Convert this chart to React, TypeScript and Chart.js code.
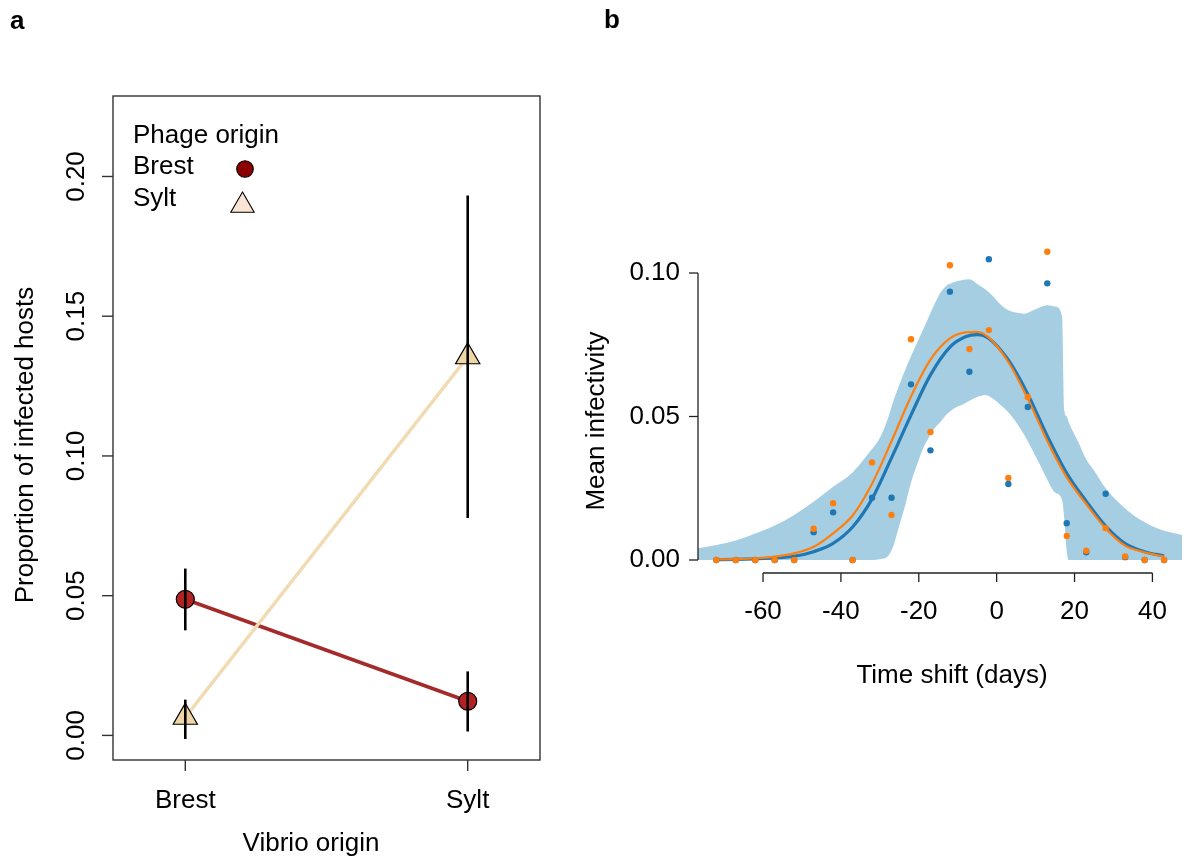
import React, { useEffect, useRef } from 'react';
import { Chart, registerables } from 'chart.js';

Chart.register(...registerables);

const FONT = "'Liberation Sans', Arial, Helvetica, sans-serif";

// ---------- Panel a data ----------
const vibrioOrigins = ['Brest', 'Sylt'];
const vibrioPositions = [1, 2];
const brestPhageMean = [0.0487, 0.0122];
const brestPhageLower = [0.0376, 0.0014];
const brestPhageUpper = [0.0597, 0.0229];
const syltPhageMean = [0.0065, 0.1355];
const syltPhageLower = [-0.0013, 0.0778];
const syltPhageUpper = [0.0128, 0.1932];
const yTicksA = [0, 0.05, 0.1, 0.15, 0.2];
const yTickLabelsA = ['0.00', '0.05', '0.10', '0.15', '0.20'];
const legendTitleA = 'Phage origin';
const legendLabelsA = ['Brest', 'Sylt'];

// ---------- Panel b data ----------
const timeShift = [-72, -67, -62, -57, -52, -47, -42, -37, -32, -27, -22, -17, -12, -7, -2, 3, 8, 13, 18, 23, 28, 33, 38, 43];
const blueObserved = [0, 0, 0, 0, 0, 0.0097, 0.0166, 0, 0.0217, 0.0217, 0.0612, 0.0382, 0.0935, 0.0656, 0.1048, 0.0265, 0.0533, 0.0964, 0.0128, 0.0027, 0.0231, 0.001, 0, 0];
const orangeObserved = [0, 0, 0, 0, 0, 0.0109, 0.0198, 0, 0.034, 0.0157, 0.0769, 0.0446, 0.1027, 0.0735, 0.0801, 0.0286, 0.0568, 0.1074, 0.0084, 0.0032, 0.0111, 0.0012, 0, 0];

const curveX = [-72, -67, -62, -57, -52, -47, -42, -37, -32, -27, -22, -17, -12, -8, -5, -2, 3, 8, 13, 18, 23, 28, 33, 38, 43];
const blueFit = [0.0001, 0.0002, 0.0004, 0.0007, 0.0013, 0.0029, 0.0058, 0.0115, 0.0213, 0.0356, 0.0505, 0.0645, 0.0742, 0.0778, 0.0785, 0.0772, 0.0697, 0.0578, 0.0432, 0.0302, 0.0205, 0.0118, 0.0057, 0.0029, 0.0014];
const orangeFit = [0.0002, 0.0003, 0.0006, 0.0012, 0.0023, 0.0046, 0.0093, 0.0155, 0.0266, 0.0414, 0.057, 0.0698, 0.0772, 0.0793, 0.0795, 0.0775, 0.069, 0.0562, 0.0415, 0.0288, 0.0195, 0.011, 0.005, 0.0027, 0.0012];

const bandX = [-77, -72, -67, -62, -57, -52, -47, -42, -37, -33, -30, -28, -26.5, -25, -23.5, -22, -20.5, -19, -17.5, -16, -14.5, -13, -11, -9, -7, -5, -3, -1, 1, 3, 5, 7, 9, 11, 13, 15, 16.8, 17.4, 18, 18.5, 21, 23, 25, 28, 31, 34, 37, 40, 43, 46, 48];
const bandUpper = [0.004, 0.0052, 0.0068, 0.0092, 0.012, 0.0157, 0.0203, 0.0255, 0.0305, 0.037, 0.0425, 0.049, 0.0555, 0.061, 0.0662, 0.071, 0.0755, 0.08, 0.0845, 0.089, 0.093, 0.0955, 0.0968, 0.0975, 0.0978, 0.0962, 0.0944, 0.092, 0.089, 0.087, 0.0862, 0.0858, 0.0868, 0.088, 0.0888, 0.0883, 0.0848, 0.052, 0.05, 0.048, 0.041, 0.035, 0.0312, 0.025, 0.0205, 0.0168, 0.0139, 0.0118, 0.0102, 0.0092, 0.0086];
const bandLower = [0, 0, 0, 0, 0, 0, 0, 0, 0, 0, 0.0003, 0.0012, 0.005, 0.012, 0.019, 0.027, 0.033, 0.0385, 0.0425, 0.0458, 0.048, 0.0505, 0.0528, 0.054, 0.0555, 0.0568, 0.0575, 0.0563, 0.054, 0.0515, 0.048, 0.0438, 0.0388, 0.0335, 0.028, 0.0235, 0.0209, 0.014, 0.003, 0, 0, 0, 0, 0, 0, 0, 0, 0, 0, 0, 0];

const yTicksB = [0, 0.05, 0.1];
const yTickLabelsB = ['0.00', '0.05', '0.10'];
const xTicksB = [-60, -40, -20, 0, 20, 40];
const xTickLabelsB = ['-60', '-40', '-20', '0', '20', '40'];

const zip = (xs: number[], ys: number[]) => xs.map((x, i) => ({ x, y: ys[i] }));

function drawTriangle(ctx: CanvasRenderingContext2D, cx: number, cy: number, r: number) {
  ctx.beginPath();
  for (let k = 0; k < 3; k++) {
    const a = (k * 2 * Math.PI) / 3;
    const px = cx + Math.sin(a) * r;
    const py = cy - Math.cos(a) * r;
    if (k === 0) ctx.moveTo(px, py);
    else ctx.lineTo(px, py);
  }
  ctx.closePath();
}

function PanelA() {
  const ref = useRef<HTMLCanvasElement>(null);
  useEffect(() => {
    const canvas = ref.current!;
    const decor = {
      id: 'decorA',
      afterDatasetsDraw(chart: any) {
        const { ctx, scales } = chart;
        const x = scales.x;
        const y = scales.y;
        ctx.save();
        ctx.strokeStyle = '#000';
        ctx.lineWidth = 2.6;
        const groups = [
          [brestPhageLower, brestPhageUpper],
          [syltPhageLower, syltPhageUpper],
        ];
        groups.forEach(([lo, hi]) => {
          vibrioPositions.forEach((p, i) => {
            const px = x.getPixelForValue(p);
            ctx.beginPath();
            ctx.moveTo(px, y.getPixelForValue(lo[i]));
            ctx.lineTo(px, y.getPixelForValue(hi[i]));
            ctx.stroke();
          });
        });
        ctx.restore();
      },
      afterDraw(chart: any) {
        const { ctx, chartArea: ca, scales } = chart;
        const x = scales.x;
        const y = scales.y;
        ctx.save();
        ctx.strokeStyle = '#333';
        ctx.lineWidth = 1.4;
        ctx.strokeRect(ca.left, ca.top, ca.right - ca.left, ca.bottom - ca.top);
        ctx.fillStyle = '#000';
        ctx.font = `26px ${FONT}`;
        // y ticks
        yTicksA.forEach((v, i) => {
          const py = y.getPixelForValue(v);
          ctx.beginPath();
          ctx.moveTo(ca.left, py);
          ctx.lineTo(ca.left - 11, py);
          ctx.stroke();
          ctx.save();
          ctx.translate(77, py);
          ctx.rotate(-Math.PI / 2);
          ctx.textAlign = 'center';
          ctx.textBaseline = 'middle';
          ctx.fillText(yTickLabelsA[i], 0, 0);
          ctx.restore();
        });
        // x ticks
        vibrioPositions.forEach((p, i) => {
          const px = x.getPixelForValue(p);
          ctx.beginPath();
          ctx.moveTo(px, ca.bottom);
          ctx.lineTo(px, ca.bottom + 11);
          ctx.stroke();
          ctx.textAlign = 'center';
          ctx.textBaseline = 'middle';
          ctx.fillText(vibrioOrigins[i], px, 801);
        });
        // titles
        ctx.textAlign = 'center';
        ctx.textBaseline = 'middle';
        ctx.fillText('Vibrio origin', 311, 844);
        ctx.save();
        ctx.translate(26, 445);
        ctx.rotate(-Math.PI / 2);
        ctx.fillText('Proportion of infected hosts', 0, 0);
        ctx.restore();
        // legend
        ctx.textAlign = 'left';
        ctx.textBaseline = 'alphabetic';
        ctx.fillText(legendTitleA, 133, 143);
        ctx.fillText(legendLabelsA[0], 133, 174);
        ctx.fillText(legendLabelsA[1], 133, 206);
        ctx.lineWidth = 1.1;
        ctx.strokeStyle = '#000';
        ctx.beginPath();
        ctx.arc(245, 169, 8.3, 0, Math.PI * 2);
        ctx.fillStyle = '#8B0000';
        ctx.fill();
        ctx.stroke();
        drawTriangle(ctx, 242.5, 205.5, 13.5);
        ctx.fillStyle = '#FCE4D4';
        ctx.fill();
        ctx.stroke();
        // panel letter
        ctx.fillStyle = '#000';
        ctx.font = `bold 26px ${FONT}`;
        ctx.fillText('a', 10, 29);
        ctx.restore();
      },
    };
    const chart = new Chart(canvas, {
      type: 'line',
      data: {
        datasets: [
          {
            data: zip(vibrioPositions, brestPhageMean),
            showLine: false,
            pointStyle: 'circle',
            pointRadius: 9,
            pointBackgroundColor: '#B22222',
            pointBorderColor: '#000',
            pointBorderWidth: 1.2,
            order: 0,
            clip: false,
          } as any,
          {
            data: zip(vibrioPositions, syltPhageMean),
            showLine: false,
            pointStyle: 'triangle',
            pointRadius: 14,
            pointBackgroundColor: '#EFD6A8',
            pointBorderColor: '#000',
            pointBorderWidth: 1.2,
            order: 1,
            clip: false,
          },
          {
            data: zip(vibrioPositions, syltPhageMean),
            borderColor: '#F0DBB2',
            borderWidth: 3.6,
            pointRadius: 0,
            fill: false,
            order: 2,
          },
          {
            data: zip(vibrioPositions, brestPhageMean),
            borderColor: '#A52A2A',
            borderWidth: 3.6,
            pointRadius: 0,
            fill: false,
            order: 3,
          },
        ],
      },
      options: {
        animation: false,
        responsive: false,
        devicePixelRatio: 1,
        layout: { padding: { left: 113, top: 96, right: 50, bottom: 99 } },
        scales: {
          x: { type: 'linear', min: 0.744, max: 2.256, display: false },
          y: { type: 'linear', min: -0.0088, max: 0.2288, display: false },
        },
        plugins: { legend: { display: false }, tooltip: { enabled: false } },
      },
      plugins: [decor],
    } as any);
    return () => chart.destroy();
  }, []);
  return (
    <canvas
      ref={ref}
      width={590}
      height={859}
      style={{ position: 'absolute', left: 0, top: 0, width: 590, height: 859 }}
    />
  );
}

function PanelB() {
  const ref = useRef<HTMLCanvasElement>(null);
  useEffect(() => {
    const canvas = ref.current!;
    const decor = {
      id: 'decorB',
      afterDraw(chart: any) {
        const { ctx, chartArea: ca, scales } = chart;
        const x = scales.x;
        const y = scales.y;
        ctx.save();
        ctx.strokeStyle = '#222';
        ctx.lineWidth = 1.3;
        ctx.fillStyle = '#000';
        ctx.font = `26px ${FONT}`;
        // y spine
        const x0 = ca.left;
        ctx.beginPath();
        ctx.moveTo(x0, y.getPixelForValue(yTicksB[0]));
        ctx.lineTo(x0, y.getPixelForValue(yTicksB[yTicksB.length - 1]));
        ctx.stroke();
        yTicksB.forEach((v, i) => {
          const py = y.getPixelForValue(v);
          ctx.beginPath();
          ctx.moveTo(x0, py);
          ctx.lineTo(x0 - 9, py);
          ctx.stroke();
          ctx.textAlign = 'right';
          ctx.textBaseline = 'middle';
          ctx.fillText(yTickLabelsB[i], x0 - 18, py);
        });
        // x spine
        const yb = ca.bottom;
        ctx.beginPath();
        ctx.moveTo(x.getPixelForValue(xTicksB[0]), yb);
        ctx.lineTo(x.getPixelForValue(xTicksB[xTicksB.length - 1]), yb);
        ctx.stroke();
        xTicksB.forEach((v, i) => {
          const px = x.getPixelForValue(v);
          ctx.beginPath();
          ctx.moveTo(px, yb);
          ctx.lineTo(px, yb + 9);
          ctx.stroke();
          ctx.textAlign = 'center';
          ctx.textBaseline = 'middle';
          ctx.fillText(xTickLabelsB[i], px, 612);
        });
        ctx.textAlign = 'center';
        ctx.textBaseline = 'middle';
        ctx.fillText('Time shift (days)', 392, 676);
        ctx.save();
        ctx.translate(37, 421);
        ctx.rotate(-Math.PI / 2);
        ctx.fillText('Mean infectivity', 0, 0);
        ctx.restore();
        ctx.textAlign = 'left';
        ctx.textBaseline = 'alphabetic';
        ctx.font = `bold 26px ${FONT}`;
        ctx.fillText('b', 44, 28);
        ctx.restore();
      },
    };
    const chart = new Chart(canvas, {
      type: 'line',
      data: {
        datasets: [
          {
            data: zip(timeShift, orangeObserved),
            showLine: false,
            pointRadius: 3.2,
            pointBorderWidth: 0,
            pointBackgroundColor: '#FF7F0E',
            order: 0,
          },
          {
            data: zip(timeShift, blueObserved),
            showLine: false,
            pointRadius: 3.2,
            pointBorderWidth: 0,
            pointBackgroundColor: '#1F77B4',
            order: 1,
          },
          {
            data: zip(curveX, orangeFit),
            borderColor: '#FF7F0E',
            borderWidth: 2.2,
            pointRadius: 0,
            cubicInterpolationMode: 'monotone',
            fill: false,
            order: 2,
          },
          {
            data: zip(curveX, blueFit),
            borderColor: '#1F77B4',
            borderWidth: 3.2,
            pointRadius: 0,
            cubicInterpolationMode: 'monotone',
            fill: false,
            order: 3,
          },
          {
            data: zip(bandX, bandUpper),
            borderWidth: 0,
            borderColor: 'rgba(0,0,0,0)',
            backgroundColor: '#A6CEE3',
            pointRadius: 0,
            cubicInterpolationMode: 'monotone',
            fill: 5,
            order: 4,
          },
          {
            data: zip(bandX, bandLower),
            borderWidth: 0,
            borderColor: 'rgba(0,0,0,0)',
            pointRadius: 0,
            cubicInterpolationMode: 'monotone',
            fill: false,
            order: 5,
          },
        ],
      },
      options: {
        animation: false,
        responsive: false,
        devicePixelRatio: 1,
        layout: { padding: { left: 138, top: 240, right: 0, bottom: 286 } },
        scales: {
          x: { type: 'linear', min: -76.7, max: 47.6, display: false },
          y: { type: 'linear', min: -0.00453, max: 0.1115, display: false },
        },
        plugins: { legend: { display: false }, tooltip: { enabled: false } },
      },
      plugins: [decor],
    } as any);
    return () => chart.destroy();
  }, []);
  return (
    <canvas
      ref={ref}
      width={626}
      height={859}
      style={{ position: 'absolute', left: 560, top: 0, width: 626, height: 859 }}
    />
  );
}

export default function App() {
  return (
    <div
      style={{
        position: 'absolute',
        left: 0,
        top: 0,
        width: 1186,
        height: 859,
        overflow: 'hidden',
        background: '#fff',
      }}
    >
      <PanelA />
      <PanelB />
    </div>
  );
}
